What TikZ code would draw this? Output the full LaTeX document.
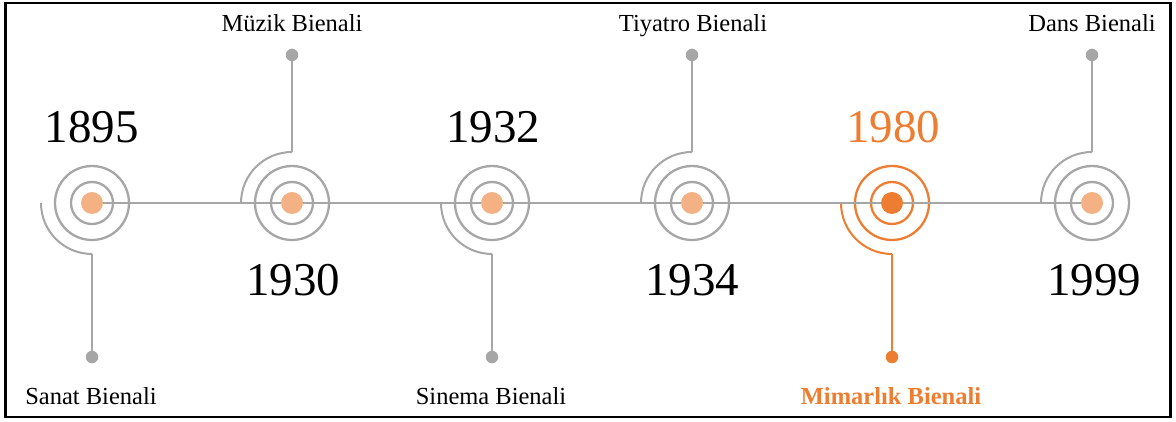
\documentclass[tikz,border=0pt]{standalone}
\usepackage{fontspec}
\setmainfont{Liberation Serif}
\definecolor{tlgray}{HTML}{A6A6A6}
\definecolor{tlorange}{HTML}{ED7D31}
\definecolor{tllight}{HTML}{F4B183}
\tikzset{
  ring/.style={draw=#1, line width=2.3pt},
  stem/.style={draw=#1, line width=2pt},
  hub/.style={circle, fill=#1, minimum size=22pt, inner sep=0pt},
  tipdot/.style={circle, fill=#1, minimum size=12.5pt, inner sep=0pt},
  year/.style={font=\fontsize{47}{50}\selectfont, anchor=base, text=#1, inner sep=0pt},
  label/.style={font=\fontsize{24.5}{28}\selectfont, anchor=base, text=#1, inner sep=0pt},
}
\begin{document}
\begin{tikzpicture}[x=1pt,y=1pt]
\useasboundingbox (0,0) rectangle (1176,421);
\draw[line width=2.6pt] (5.5,4) rectangle (1170.5,418);

% centers
\foreach \i/\x in {1/92,2/292,3/492,4/692,5/892,6/1092}{
  \coordinate (c\i) at (\x,218);
}

% rings and stems
\foreach \i/\x/\dir/\col in {1/92/d/tlgray,2/292/u/tlgray,3/492/d/tlgray,4/692/u/tlgray,5/892/d/tlorange,6/1092/u/tlgray}{
  \draw[ring=\col] (c\i) circle[radius=21];
  \draw[ring=\col] (c\i) circle[radius=37];
  \if\dir d
    \draw[stem=\col] (c\i) ++(-51,0) arc[start angle=180,end angle=270,radius=51] coordinate (a\i);
    \node[tipdot=\col] (e\i) at (\x,64) {};
  \else
    \draw[stem=\col] (c\i) ++(-51,0) arc[start angle=180,end angle=90,radius=51] coordinate (a\i);
    \node[tipdot=\col] (e\i) at (\x,366) {};
  \fi
  \draw[stem=\col] (a\i) -- (e\i);
}

% timeline
\draw[stem=tlgray] (c1) -- (c6);

% hubs
\foreach \i in {1,2,3,4,6}{ \node[hub=tllight] (h\i) at (c\i) {}; }
\node[hub=tlorange] (h5) at (c5) {};

% years
\node[year=black] (y1) at (92,278) {1895};
\node[year=black] (y2) at (293,125) {1930};
\node[year=black] (y3) at (493,278) {1932};
\node[year=black] (y4) at (692,125) {1934};
\node[year=tlorange] (y5) at (893,278) {1980};
\node[year=black] (y6) at (1094,125) {1999};

% labels
\node[label=black] (l1) at (91,17) {Sanat Bienali};
\node[label=black] (l2) at (292,389) {Müzik Bienali};
\node[label=black] (l3) at (491,17) {Sinema Bienali};
\node[label=black] (l4) at (693,389) {Tiyatro Bienali};
\node[label=tlorange, font=\fontsize{24.5}{28}\selectfont\bfseries] (l5) at (891,17) {Mimarlık Bienali};
\node[label=black] (l6) at (1092,389) {Dans Bienali};
\end{tikzpicture}
\end{document}
